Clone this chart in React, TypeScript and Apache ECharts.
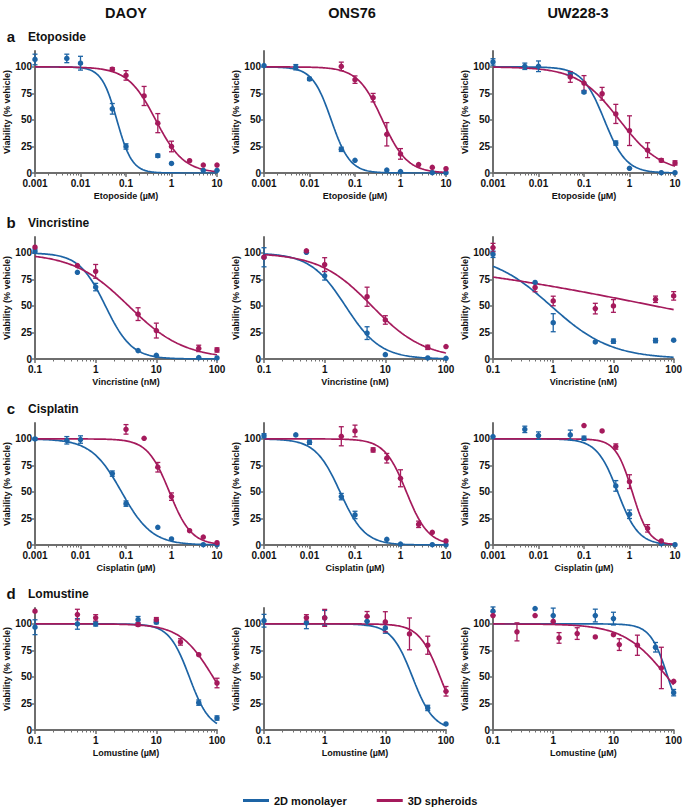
import React, { useEffect, useRef } from "react";
import * as echarts from "echarts";

const BLUE = "#1d64a5";
const RED = "#a51a5c";
const AXIS_COLOR = "#6e6e6e";
const FONT = "'Liberation Sans', Arial, sans-serif";

const COLUMN_TITLES = ["DAOY", "ONS76", "UW228-3"];
const ROW_LETTERS = ["a", "b", "c", "d"];
const DRUGS = ["Etoposide", "Vincristine", "Cisplatin", "Lomustine"];
const X_AXIS_NAMES = ["Etoposide (µM)", "Vincristine (nM)", "Cisplatin (µM)", "Lomustine (µM)"];
const X_RANGES = [[0.001, 10], [0.1, 100], [0.001, 10], [0.1, 100]];
const Y_TICKS = [0, 25, 50, 75, 100];
const Y_MAX = 115;
const Y_AXIS_NAME = "Viability (% vehicle)";
const LEGEND_NAMES = ["2D monolayer", "3D spheroids"];

// points: [concentration, mean viability, error]
const ETO_DAOY_2D = [[0.001, 107, 5], [0.005, 108, 4], [0.01, 103.5, 6.5], [0.05, 60.5, 5], [0.1, 25, 2.5], [0.5, 16.3, 1.5], [1, 9, 0], [5, 2.5, 0], [10, 2.5, 0]];
const ETO_DAOY_3D = [[0.05, 97.8, 1.5], [0.1, 92, 4.5], [0.25, 72.6, 9], [0.5, 47, 9], [1, 25, 5], [2.5, 11.6, 0], [5, 7.5, 0], [10, 7.5, 0]];
const ETO_ONS_2D = [[0.001, 101.3, 0], [0.005, 99.7, 2.5], [0.01, 88.7, 1.5], [0.05, 22.3, 2], [0.1, 12, 0], [0.5, 2.8, 0], [1, 1.3, 0], [5, 0.3, 0], [10, 0.3, 0]];
const ETO_ONS_3D = [[0.05, 100.5, 4], [0.1, 88, 3.5], [0.25, 71, 4], [0.5, 36.5, 11], [1, 18, 5], [2.5, 8, 0], [5, 5.3, 0], [10, 4, 0]];
const ETO_UW_2D = [[0.001, 104.7, 3], [0.005, 100.6, 3], [0.01, 100.6, 5], [0.05, 92.7, 2], [0.1, 76.3, 1], [0.5, 28.2, 2], [1, 4.4, 0], [5, 0.3, 0], [10, 0.3, 0]];
const ETO_UW_3D = [[0.05, 90.5, 5], [0.1, 84.8, 7], [0.25, 74.7, 6], [0.5, 55.7, 9], [1, 39.9, 14], [2.5, 21.5, 7], [5, 12, 1.5], [10, 9.5, 2]];

const VIN_DAOY_2D = [[0.1, 101.6, 2], [0.5, 81.7, 0], [1, 67.8, 3.5], [5, 7.9, 0], [10, 3.5, 0], [50, 1.3, 0], [100, 1, 0]];
const VIN_DAOY_3D = [[0.1, 105.4, 0], [0.5, 88, 0], [1, 82.6, 6.5], [5, 42.3, 6], [10, 26.8, 7], [50, 10, 3], [100, 8.5, 2]];
const VIN_ONS_2D = [[0.1, 95.9, 9], [0.5, 100.6, 0], [1, 78.4, 4], [5, 24.4, 6], [10, 4.1, 0], [50, 1, 0], [100, 0.6, 0]];
const VIN_ONS_3D = [[0.1, 96, 0], [0.5, 102, 0], [1, 89, 6.5], [5, 58.7, 9], [10, 36.8, 4], [50, 11, 2], [100, 11.7, 0]];
const VIN_UW_2D = [[0.1, 98.7, 3], [0.5, 72.2, 0], [1, 34.2, 8.5], [5, 16.1, 0], [10, 16.8, 2], [50, 17.4, 2], [100, 17.7, 0]];
const VIN_UW_3D = [[0.1, 105, 4], [0.5, 67.4, 4], [1, 54.7, 4.5], [5, 47.5, 5], [10, 50, 6], [50, 56.3, 3], [100, 59.5, 4]];

const CIS_DAOY_2D = [[0.001, 100, 1], [0.005, 98.7, 3.5], [0.01, 99.4, 3.5], [0.05, 67.3, 2.5], [0.1, 39, 2.5], [0.5, 16.7, 0], [1, 5.7, 0], [5, 0.3, 0], [10, 0.3, 0]];
const CIS_DAOY_3D = [[0.1, 109, 4.5], [0.25, 100.6, 0], [0.5, 73.3, 4.5], [1, 45.6, 3.5], [2.5, 13.5, 0], [5, 7.5, 0], [10, 2.2, 0]];
const CIS_ONS_2D = [[0.001, 103, 2], [0.005, 103.8, 0], [0.01, 96.9, 2], [0.05, 45.6, 3], [0.1, 28.3, 3.5], [0.5, 5.3, 0], [1, 0.9, 0], [5, 0.3, 0], [10, 0.2, 0]];
const CIS_ONS_3D = [[0.05, 102.5, 9], [0.1, 107.5, 5.5], [0.25, 89.6, 2], [0.5, 81.8, 4.5], [1, 62.9, 8], [2.5, 19.5, 3], [5, 12, 0], [10, 3.8, 0]];
const CIS_UW_2D = [[0.001, 102.2, 0], [0.005, 109, 3], [0.01, 103.1, 3.5], [0.05, 103.8, 4.5], [0.1, 100.6, 2], [0.5, 55.7, 5], [1, 29, 4], [5, 1.3, 0], [10, 0.3, 0]];
const CIS_UW_3D = [[0.1, 112.6, 0], [0.25, 107.5, 0], [0.5, 92.8, 2.5], [1, 59.7, 6.5], [2.5, 15.7, 3.5], [5, 3.8, 0]];

const LOM_DAOY_2D = [[0.1, 96.9, 7], [0.5, 100, 5], [1, 100, 2], [5, 104, 3], [10, 101.6, 1.5], [50, 25.8, 2.5], [100, 11.3, 2]];
const LOM_DAOY_3D = [[0.1, 112, 0], [0.5, 108.8, 5], [1, 105.7, 3], [5, 99.4, 1.5], [10, 104, 2], [25, 83, 3], [50, 71, 0], [100, 44.3, 4.5]];
const LOM_ONS_2D = [[0.1, 103, 6], [0.5, 101, 5.5], [1, 105.7, 7], [5, 102.5, 4], [10, 96.2, 5], [50, 20.8, 2.5], [100, 5.7, 0]];
const LOM_ONS_3D = [[0.5, 105.7, 3], [1, 105.7, 8], [5, 107.2, 4.5], [10, 102, 9.5], [25, 90.6, 15], [50, 79.9, 8.5], [100, 36.5, 4.5]];
const LOM_UW_2D = [[0.1, 112, 4], [0.5, 114.5, 0], [1, 107.9, 7], [5, 107.9, 6], [10, 105, 6], [50, 78, 4.5], [100, 35.2, 3]];
const LOM_UW_3D = [[0.1, 107.9, 0], [0.25, 92.5, 8.5], [0.5, 107.9, 0], [1, 102.5, 0], [1.25, 86.8, 5], [2.5, 90.9, 5.5], [5, 87.7, 0], [10, 89.9, 0], [12.5, 80.5, 5.5], [25, 79.9, 9.5], [62.5, 58.5, 19.5], [100, 45.9, 0]];

// four-parameter fits: [top, bottom, IC50, hill slope]
const FIT_ETO_DAOY = [[100, 0, 0.063, 2.6], [100, 0, 0.45, 1.4]];
const FIT_ETO_ONS = [[100, 0, 0.03, 2.1], [100, 0, 0.4, 1.6]];
const FIT_ETO_UW = [[100, 0, 0.28, 1.8], [100, 0, 0.6, 0.95]];
const FIT_VIN_DAOY = [[100, 0, 1.45, 2.0], [100, 0, 3.5, 0.95]];
const FIT_VIN_ONS = [[100, 0, 2.2, 1.5], [100, 0, 6, 1.0]];
const FIT_VIN_UW = [[100, 0, 0.92, 0.87], [100, 0, 49, 0.197]];
const FIT_CIS_DAOY = [[100, 0, 0.08, 1.3], [100, 0, 0.9, 1.8]];
const FIT_CIS_ONS = [[100, 0, 0.047, 1.6], [100, 0, 1.35, 1.8]];
const FIT_CIS_UW = [[100, 0, 0.55, 1.9], [100, 0, 1.15, 2.4]];
const FIT_LOM_DAOY = [[100, 0, 35, 2.6], [100, 0, 86, 1.6]];
const FIT_LOM_ONS = [[100, 0, 28, 2.5], [100, 0, 80, 2.5]];
const FIT_LOM_UW = [[100, 0, 80, 3.0], [100, 0, 78, 1.2]];

const PANELS = [
  { pts: [ETO_DAOY_2D, ETO_DAOY_3D], fit: FIT_ETO_DAOY },
  { pts: [ETO_ONS_2D, ETO_ONS_3D], fit: FIT_ETO_ONS },
  { pts: [ETO_UW_2D, ETO_UW_3D], fit: FIT_ETO_UW },
  { pts: [VIN_DAOY_2D, VIN_DAOY_3D], fit: FIT_VIN_DAOY },
  { pts: [VIN_ONS_2D, VIN_ONS_3D], fit: FIT_VIN_ONS },
  { pts: [VIN_UW_2D, VIN_UW_3D], fit: FIT_VIN_UW },
  { pts: [CIS_DAOY_2D, CIS_DAOY_3D], fit: FIT_CIS_DAOY },
  { pts: [CIS_ONS_2D, CIS_ONS_3D], fit: FIT_CIS_ONS },
  { pts: [CIS_UW_2D, CIS_UW_3D], fit: FIT_CIS_UW },
  { pts: [LOM_DAOY_2D, LOM_DAOY_3D], fit: FIT_LOM_DAOY },
  { pts: [LOM_ONS_2D, LOM_ONS_3D], fit: FIT_LOM_ONS },
  { pts: [LOM_UW_2D, LOM_UW_3D], fit: FIT_LOM_UW },
];

// layout
const COL_LEFT = [35, 264, 493];
const COL_WIDTH = 182;
const TITLE_X = [126, 352, 578];
const ROW_TOP = [51, 237, 423, 608];
const ROW_HEIGHT = 122;

function curvePoints(fit: number[], xmin: number, xmax: number) {
  const [top, bottom, ic50, hill] = fit;
  const a = Math.log10(xmin);
  const b = Math.log10(xmax);
  const n = 150;
  const out: number[][] = [];
  for (let i = 0; i <= n; i++) {
    const x = Math.pow(10, a + ((b - a) * i) / n);
    out.push([x, bottom + (top - bottom) / (1 + Math.pow(x / ic50, hill))]);
  }
  return out;
}

function minorTickValues(xmin: number, xmax: number) {
  const vals: number[] = [];
  for (let d = Math.round(Math.log10(xmin)); d < Math.round(Math.log10(xmax)); d++) {
    for (let k = 2; k <= 9; k++) vals.push(d + Math.log10(k));
  }
  return vals;
}

function fmtLog(v: number) {
  return String(Number(Number(v).toPrecision(6)));
}

export default function App() {
  const ref = useRef<HTMLDivElement>(null);
  useEffect(() => {
    document.body.style.margin = "0";
    if (!ref.current) return;
    const chart = echarts.init(ref.current, null, { renderer: "svg" });

    const labelStyle = { fontFamily: FONT, fontWeight: "bold" as const, fontSize: 10, color: "#111" };
    const nameStyle = { fontFamily: FONT, fontWeight: "bold" as const, fontSize: 9, color: "#111" };

    const grids: any[] = [];
    const xAxes: any[] = [];
    const yAxes: any[] = [];
    const series: any[] = [];

    PANELS.forEach((p, i) => {
      const r = Math.floor(i / 3);
      const c = i % 3;
      const [xmin, xmax] = X_RANGES[r];
      grids.push({ left: COL_LEFT[c], top: ROW_TOP[r], width: COL_WIDTH, height: ROW_HEIGHT });
      xAxes.push({
        type: "log",
        logBase: 10,
        gridIndex: i,
        position: "bottom",
        min: xmin,
        max: xmax,
        name: X_AXIS_NAMES[r],
        nameLocation: "middle",
        nameGap: 18,
        nameTextStyle: nameStyle,
        axisLine: { onZero: false, lineStyle: { color: AXIS_COLOR, width: 2 } },
        axisTick: { length: 4, lineStyle: { color: AXIS_COLOR, width: 1.5 } },
        axisLabel: { ...labelStyle, margin: 5, formatter: fmtLog },
        splitLine: { show: false },
      });
      xAxes.push({
        type: "value",
        gridIndex: i,
        position: "bottom",
        offset: 0,
        min: Math.log10(xmin),
        max: Math.log10(xmax),
        axisLine: { show: false, onZero: false },
        axisLabel: { show: false },
        splitLine: { show: false },
        axisTick: { show: true, customValues: minorTickValues(xmin, xmax), length: 2.5, lineStyle: { color: AXIS_COLOR, width: 1 } },
      });
      yAxes.push({
        type: "value",
        gridIndex: i,
        position: "left",
        min: 0,
        max: Y_MAX,
        name: Y_AXIS_NAME,
        nameLocation: "middle",
        nameGap: 22,
        nameTextStyle: nameStyle,
        axisLine: { show: true, onZero: false, lineStyle: { color: AXIS_COLOR, width: 2 } },
        axisTick: { show: true, length: 3, customValues: Y_TICKS, lineStyle: { color: AXIS_COLOR, width: 1.5 } },
        axisLabel: { ...labelStyle, margin: 3, customValues: Y_TICKS },
        splitLine: { show: false },
      });

      [0, 1].forEach((s) => {
        const color = s === 0 ? BLUE : RED;
        const name = LEGEND_NAMES[s];
        series.push({
          type: "line",
          name,
          xAxisIndex: 2 * i,
          yAxisIndex: i,
          data: curvePoints(p.fit[s], xmin, xmax),
          showSymbol: false,
          symbol: "none",
          silent: true,
          lineStyle: { color, width: 1.7 },
          itemStyle: { color },
          z: 2 + s,
        });
      });
      [0, 1].forEach((s) => {
        const color = s === 0 ? BLUE : RED;
        const name = LEGEND_NAMES[s];
        series.push({
          type: "custom",
          name,
          xAxisIndex: 2 * i,
          yAxisIndex: i,
          data: p.pts[s],
          encode: { x: 0, y: 1 },
          silent: true,
          z: 4,
          itemStyle: { color },
          renderItem: (params: any, api: any) => {
            const x = api.value(0);
            const y = api.value(1);
            const e = api.value(2);
            if (!e) return { type: "group", children: [] };
            const t = api.coord([x, y + e]);
            const b = api.coord([x, y - e]);
            const cap = 2.5;
            const st = { stroke: color, lineWidth: 1.3 };
            return {
              type: "group",
              children: [
                { type: "line", shape: { x1: t[0], y1: t[1], x2: b[0], y2: b[1] }, style: st },
                { type: "line", shape: { x1: t[0] - cap, y1: t[1], x2: t[0] + cap, y2: t[1] }, style: st },
                { type: "line", shape: { x1: b[0] - cap, y1: b[1], x2: b[0] + cap, y2: b[1] }, style: st },
              ],
            };
          },
        });
        series.push({
          type: "scatter",
          name,
          xAxisIndex: 2 * i,
          yAxisIndex: i,
          data: p.pts[s].map((d) => [d[0], d[1]]),
          symbol: "circle",
          symbolSize: 5.5,
          silent: true,
          itemStyle: { color, opacity: 1 },
          z: 5,
        });
      });
    });

    const graphics: any[] = [];
    COLUMN_TITLES.forEach((t, c) => {
      graphics.push({
        type: "text",
        x: TITLE_X[c],
        y: 13,
        style: { text: t, fontFamily: FONT, fontWeight: "bold", fontSize: 14.5, fill: "#111", align: "center", verticalAlign: "middle" },
      });
    });
    ROW_LETTERS.forEach((l, r) => {
      const y = ROW_TOP[r] - 14.5;
      graphics.push({
        type: "text",
        x: 11,
        y,
        style: { text: l, fontFamily: FONT, fontWeight: "bold", fontSize: 15, fill: "#111", align: "center", verticalAlign: "middle" },
      });
      graphics.push({
        type: "text",
        x: 28,
        y,
        style: { text: DRUGS[r], fontFamily: FONT, fontWeight: "bold", fontSize: 12, fill: "#111", align: "left", verticalAlign: "middle" },
      });
    });

    chart.setOption({
      animation: false,
      backgroundColor: "#fff",
      grid: grids,
      xAxis: xAxes,
      yAxis: yAxes,
      series,
      graphic: graphics,
      legend: {
        data: LEGEND_NAMES,
        left: 238,
        top: 790,
        icon: "rect",
        itemWidth: 26,
        itemHeight: 3,
        itemGap: 30,
        selectedMode: false,
        textStyle: { fontFamily: FONT, fontWeight: "bold", fontSize: 11, color: "#111" },
      },
    });
    return () => chart.dispose();
  }, []);
  return <div ref={ref} style={{ width: 685, height: 812, position: "absolute", left: 0, top: 0 }} />;
}
